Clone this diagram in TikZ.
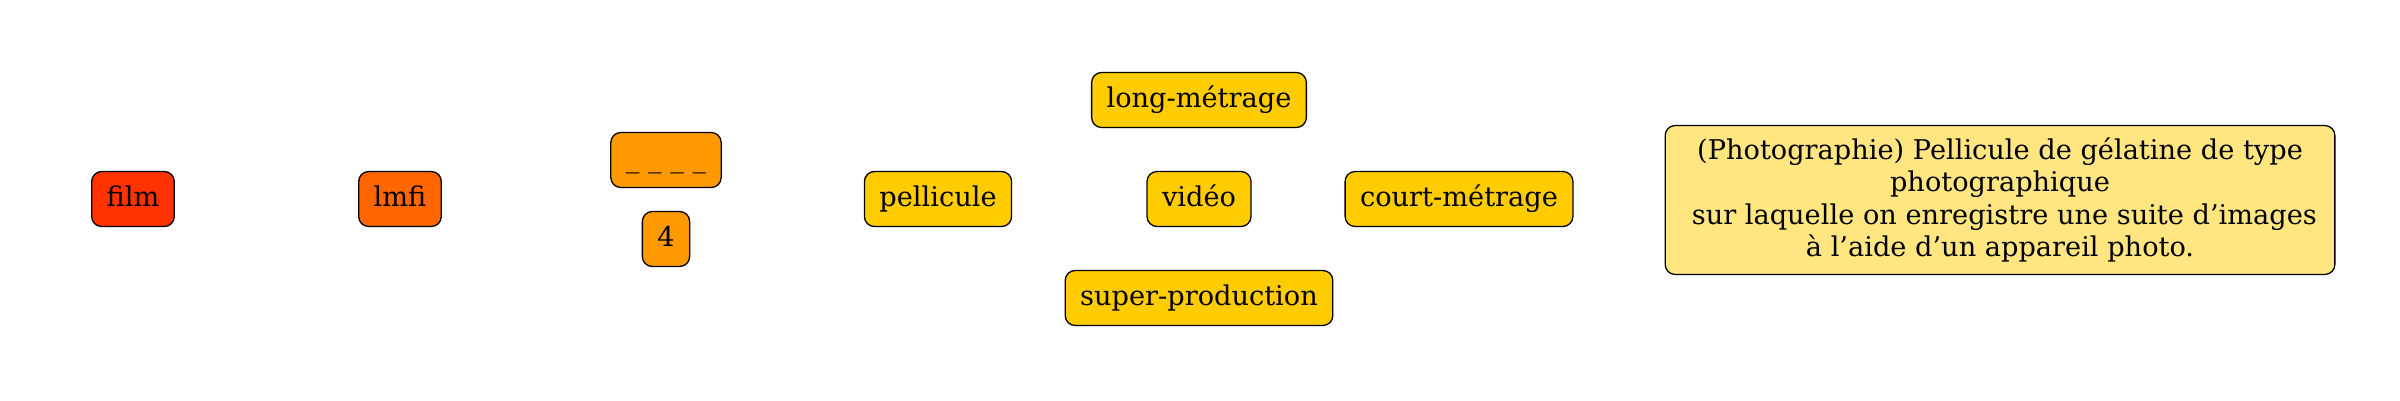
\documentclass[tikz,border=0pt]{standalone}
\usepackage{fontspec}
\setmainfont{DejaVu Serif}
\definecolor{cfilm}{HTML}{FF3300}
\definecolor{clmfi}{HTML}{FF6600}
\definecolor{corange}{HTML}{FF9900}
\definecolor{cgold}{HTML}{FFCC00}
\definecolor{cdef}{HTML}{FFE680}
\begin{document}
\begin{tikzpicture}[x=1pt,y=-1pt,
  basebox/.style={draw=black, line width=1.3pt, rounded corners=10pt,
    font=\fontsize{27.2}{32.5}\selectfont},
  box/.style={basebox, inner xsep=15pt, inner ysep=0pt, text height=21pt, text depth=6.5pt,
    minimum height=55pt},
  defbox/.style={basebox, align=center, inner xsep=18pt, inner ysep=12pt}]
\useasboundingbox (0,0) rectangle (2400,400);
\node[box, fill=cfilm] (film) at (133,199) {film};
\node[box, fill=clmfi] (lmfi) at (400,199) {lmfi};
\node[box, fill=corange] (blank) at (666,160) {\_ \_ \_ \_};
\node[box, fill=corange] (four) at (666,239) {4};
\node[box, fill=cgold] (pellicule) at (938,199) {pellicule};
\node[box, fill=cgold] (long) at (1199,100) {long-métrage};
\node[box, fill=cgold] (video) at (1199,199) {vidéo};
\node[box, fill=cgold] (court) at (1459,199) {court-métrage};
\node[box, fill=cgold] (super) at (1199,298) {super-production};
\node[defbox, fill=cdef] (def) at (2000,200) {(Photographie) Pellicule de gélatine de type\\photographique\\\ sur laquelle on enregistre une suite d’images\\à l’aide d’un appareil photo.};
\end{tikzpicture}
\end{document}
